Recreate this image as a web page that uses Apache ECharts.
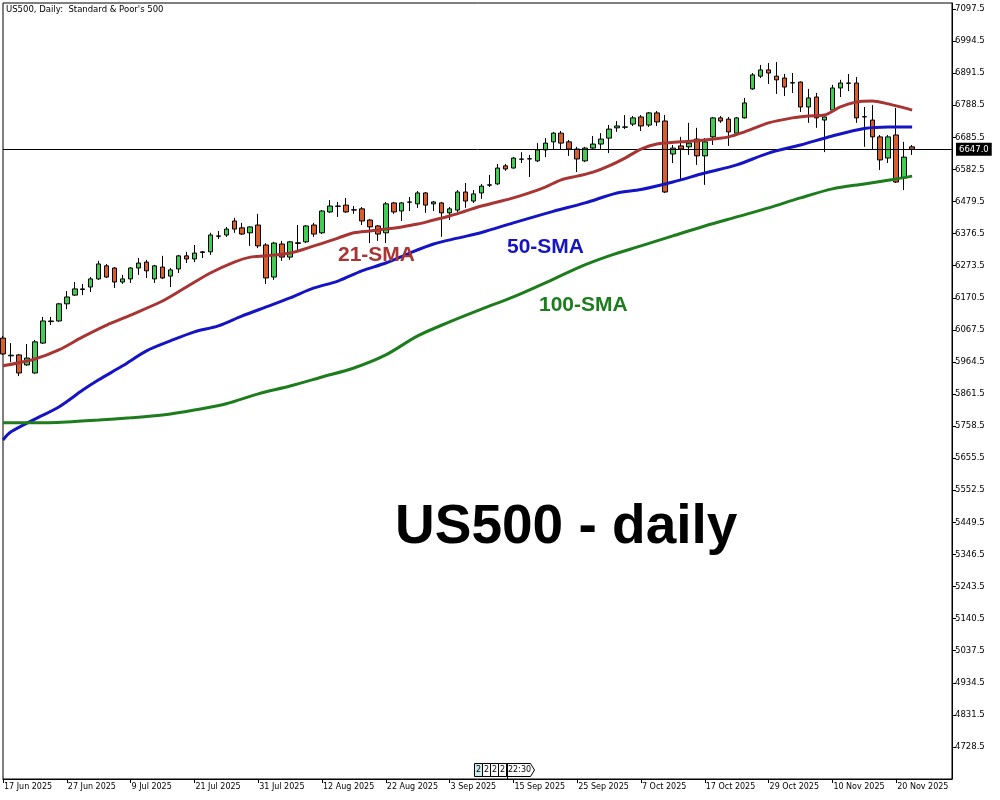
<!DOCTYPE html>
<html>
<head>
<meta charset="utf-8">
<title>US500 daily</title>
<script src="https://cdn.jsdelivr.net/npm/echarts@6/dist/echarts.min.js"></script>
<style>
  html, body { margin: 0; padding: 0; background: #fff; }
  #chart { width: 1000px; height: 800px; }
</style>
</head>
<body>
<div id="chart"></div>
<script>
  // date labels shown under the x axis, one every 8 trading days
  const tickLabels = ['17 Jun 2025', '27 Jun 2025', '9 Jul 2025', '21 Jul 2025', '31 Jul 2025',
    '12 Aug 2025', '22 Aug 2025', '3 Sep 2025', '15 Sep 2025', '25 Sep 2025', '7 Oct 2025',
    '17 Oct 2025', '29 Oct 2025', '10 Nov 2025', '20 Nov 2025'];

  // price scale labels on the right
  const priceTicks = [4728.5, 4831.5, 4934.5, 5037.5, 5140.5, 5243.5, 5346.5, 5449.5, 5552.5,
    5655.5, 5758.5, 5861.5, 5964.5, 6067.5, 6170.5, 6273.5, 6376.5, 6479.5, 6582.5, 6685.5,
    6788.5, 6891.5, 6994.5, 7097.5];

  // daily bars, [open, close, low, high], from 17 Jun 2025
  const ohlc = [
    [6041, 5990, 5987, 6048], [5986, 5984, 5964, 6025], [5987, 5929, 5919, 5990], [5955, 5977, 5952, 6022],
    [5929, 6029, 5927, 6035], [6025, 6096, 6022, 6109], [6094, 6096, 6083, 6109], [6096, 6151, 6093, 6154],
    [6151, 6173, 6134, 6192], [6179, 6199, 6176, 6221], [6197, 6199, 6179, 6215], [6205, 6231, 6189, 6237],
    [6231, 6279, 6228, 6289], [6273, 6237, 6234, 6279], [6266, 6221, 6202, 6269], [6221, 6231, 6215, 6244],
    [6231, 6266, 6218, 6269], [6266, 6282, 6244, 6298], [6285, 6257, 6234, 6292], [6231, 6273, 6218, 6276],
    [6269, 6234, 6231, 6305], [6240, 6260, 6205, 6266], [6263, 6305, 6250, 6308], [6305, 6295, 6282, 6318],
    [6295, 6314, 6285, 6340], [6318, 6316, 6298, 6320], [6318, 6372, 6308, 6379], [6368, 6369, 6359, 6385],
    [6372, 6391, 6366, 6398], [6417, 6391, 6379, 6427], [6395, 6375, 6372, 6411], [6379, 6398, 6337, 6400],
    [6404, 6337, 6330, 6440], [6340, 6234, 6215, 6346], [6237, 6346, 6228, 6350], [6343, 6301, 6289, 6353],
    [6301, 6350, 6292, 6353], [6345, 6347, 6318, 6404], [6350, 6401, 6346, 6404], [6404, 6375, 6366, 6411],
    [6379, 6449, 6375, 6452], [6446, 6465, 6443, 6484], [6464, 6465, 6430, 6478], [6468, 6446, 6443, 6491],
    [6453, 6452, 6440, 6465], [6456, 6417, 6404, 6462], [6420, 6398, 6346, 6423], [6401, 6375, 6353, 6404],
    [6379, 6472, 6346, 6478], [6475, 6446, 6440, 6478], [6449, 6475, 6417, 6478], [6477, 6478, 6449, 6494],
    [6472, 6507, 6459, 6513], [6507, 6468, 6443, 6510], [6472, 6478, 6449, 6481], [6475, 6443, 6366, 6478],
    [6443, 6456, 6420, 6462], [6452, 6510, 6446, 6516], [6510, 6481, 6459, 6539], [6481, 6504, 6475, 6516],
    [6507, 6529, 6488, 6536], [6532, 6533, 6526, 6565], [6536, 6587, 6533, 6600], [6594, 6584, 6578, 6600],
    [6587, 6619, 6585, 6622], [6615, 6616, 6603, 6638], [6617, 6616, 6558, 6629], [6610, 6645, 6606, 6667],
    [6645, 6667, 6622, 6683], [6671, 6699, 6645, 6703], [6699, 6667, 6645, 6706], [6671, 6648, 6626, 6677],
    [6648, 6616, 6574, 6655], [6610, 6651, 6606, 6655], [6651, 6664, 6648, 6690], [6664, 6680, 6648, 6699],
    [6683, 6712, 6635, 6725], [6716, 6722, 6703, 6738], [6718, 6719, 6712, 6757], [6728, 6748, 6722, 6754],
    [6751, 6722, 6706, 6757], [6725, 6764, 6719, 6767], [6764, 6735, 6722, 6770], [6738, 6510, 6507, 6757],
    [6632, 6651, 6603, 6661], [6658, 6648, 6549, 6687], [6655, 6667, 6629, 6732], [6680, 6626, 6597, 6716],
    [6626, 6671, 6533, 6683], [6687, 6748, 6661, 6751], [6748, 6738, 6732, 6754], [6744, 6703, 6658, 6751],
    [6699, 6748, 6693, 6751], [6748, 6796, 6746, 6812], [6841, 6886, 6838, 6892], [6882, 6902, 6876, 6918],
    [6902, 6892, 6857, 6924], [6882, 6870, 6825, 6927], [6876, 6847, 6818, 6889], [6861, 6860, 6828, 6892],
    [6863, 6783, 6767, 6865], [6783, 6812, 6732, 6841], [6815, 6748, 6716, 6828], [6741, 6751, 6638, 6752],
    [6773, 6844, 6767, 6854], [6844, 6860, 6815, 6870], [6859, 6860, 6834, 6889], [6860, 6748, 6732, 6879],
    [6752, 6751, 6655, 6783], [6741, 6687, 6645, 6789], [6687, 6613, 6581, 6693], [6619, 6687, 6603, 6693],
    [6693, 6542, 6539, 6780], [6555, 6622, 6516, 6671], [6655, 6647, 6629, 6661]
  ];

  // moving averages, [bar index, value]
  const sma21 = [[0, 5952], [4, 5974], [7, 6003], [10, 6045], [13, 6083], [16, 6115], [20, 6160],
    [23, 6205], [26, 6250], [29, 6285], [31, 6301], [33, 6305], [36, 6314], [39, 6337], [42, 6362],
    [44, 6379], [46, 6385], [48, 6391], [50, 6398], [52, 6407], [54, 6420], [56, 6433], [58, 6449],
    [60, 6465], [62, 6478], [64, 6491], [66, 6507], [68, 6526], [70, 6549], [72, 6561], [74, 6574],
    [76, 6594], [78, 6619], [80, 6648], [82, 6664], [85, 6671], [88, 6677], [91, 6687], [93, 6703],
    [96, 6732], [99, 6748], [101, 6754], [103, 6757], [105, 6783], [107, 6799], [109, 6802],
    [111, 6793], [113, 6780], [114, 6773]];
  const sma50 = [[0, 5714], [1, 5740], [4, 5781], [7, 5820], [10, 5874], [12, 5907], [15, 5952],
    [18, 6000], [21, 6032], [24, 6061], [27, 6080], [30, 6112], [33, 6141], [36, 6170], [39, 6202],
    [42, 6224], [45, 6257], [48, 6282], [51, 6314], [54, 6343], [57, 6362], [60, 6380], [64, 6411],
    [69, 6448], [73, 6475], [77, 6507], [80, 6518], [84, 6542], [88, 6571], [92, 6597], [96, 6635],
    [100, 6661], [104, 6690], [108, 6714], [111, 6719], [114, 6719]];
  const sma100 = [[0, 5769], [4, 5769], [8, 5772], [12, 5778], [16, 5785], [20, 5794], [24, 5810],
    [28, 5830], [32, 5862], [36, 5887], [40, 5916], [44, 5945], [48, 5987], [52, 6048], [56, 6093],
    [60, 6134], [64, 6173], [68, 6218], [72, 6266], [76, 6305], [80, 6337], [84, 6369], [88, 6401],
    [92, 6430], [96, 6459], [100, 6491], [104, 6520], [108, 6536], [112, 6552], [114, 6561]];

  const lastPrice = 6647.0;

  // weekday slots, a few left empty on the right like the terminal's chart shift
  const slotCount = 120;
  const monthNames = ['Jan', 'Feb', 'Mar', 'Apr', 'May', 'Jun', 'Jul', 'Aug', 'Sep', 'Oct', 'Nov', 'Dec'];
  const categories = [];
  for (let d = new Date(Date.UTC(2025, 5, 17)); categories.length < slotCount; d.setUTCDate(d.getUTCDate() + 1)) {
    const wd = d.getUTCDay();
    if (wd === 0 || wd === 6) continue;
    categories.push(d.getUTCDate() + ' ' + monthNames[d.getUTCMonth()] + ' ' + d.getUTCFullYear());
  }

  const smallFont = '"DejaVu Sans", sans-serif';
  const chart = echarts.init(document.getElementById('chart'));

  function smaSeries(name, data, color) {
    return {
      name: name,
      type: 'line',
      data: data,
      symbol: 'none',
      smooth: 0.3,
      z: 5,
      lineStyle: { color: color, width: 3 },
      silent: true
    };
  }

  // little scroll marker at the bottom of the plot
  const markerBoxes = [474, 482, 490, 498].map(function (x, i) {
    return {
      type: 'rect',
      shape: { x: x + 0.5, y: 763.5, width: 8, height: 13 },
      style: { fill: i === 0 ? '#cdeeee' : '#fff', stroke: '#000', lineWidth: 1 },
      textContent: { style: { text: '2', font: '8px ' + smallFont, fill: '#000' } },
      textConfig: { position: 'inside' }
    };
  });

  const option = {
    animation: false,
    backgroundColor: '#fff',
    grid: {
      left: 3, right: 48, top: 3, bottom: 21,
      show: true, borderColor: '#000', borderWidth: 1, backgroundColor: 'transparent'
    },
    xAxis: {
      type: 'category',
      data: categories,
      boundaryGap: false,
      axisLine: { show: true, lineStyle: { color: '#000', width: 1 } },
      axisTick: { show: true, interval: 7, length: 4, inside: false, lineStyle: { color: '#000' } },
      axisLabel: {
        interval: 7,
        align: 'left',
        margin: 4,
        padding: [0, 0, 0, 1],
        color: '#000',
        fontFamily: smallFont,
        fontSize: 8,
        formatter: function (value, idx) {
          return tickLabels[idx / 8] || '';
        }
      },
      splitLine: { show: false }
    },
    yAxis: {
      type: 'value',
      position: 'right',
      min: 4625.5,
      max: 7116.8,
      scale: true,
      axisLine: { show: true, lineStyle: { color: '#000', width: 1 } },
      axisTick: { show: true, length: 4, customValues: priceTicks, lineStyle: { color: '#000' } },
      axisLabel: {
        customValues: priceTicks,
        margin: 3,
        color: '#000',
        fontFamily: smallFont,
        fontSize: 8.5,
        formatter: function (v) { return v.toFixed(1); }
      },
      splitLine: { show: false }
    },
    series: [
      {
        name: 'US500',
        type: 'candlestick',
        data: ohlc,
        barWidth: 5,
        z: 3,
        itemStyle: {
          color: '#42cc55',
          color0: '#d65f2d',
          borderColor: '#000',
          borderColor0: '#000',
          borderColorDoji: '#000',
          borderWidth: 1
        },
        markLine: {
          silent: true,
          symbol: 'none',
          animation: false,
          lineStyle: { color: '#000', width: 1, type: 'solid' },
          label: {
            show: true,
            position: 'end',
            distance: 4,
            formatter: lastPrice.toFixed(1),
            color: '#fff',
            backgroundColor: '#000',
            padding: [2, 3, 2, 3],
            fontFamily: smallFont,
            fontSize: 8.5
          },
          data: [{ yAxis: lastPrice }]
        }
      },
      smaSeries('21-SMA', sma21, '#a83434'),
      smaSeries('50-SMA', sma50, '#1414c4'),
      smaSeries('100-SMA', sma100, '#1d7d1d')
    ],
    graphic: [
      {
        type: 'text', x: 6, y: 9.5, z: 20,
        style: { text: "US500, Daily:  Standard & Poor's 500", font: '8.5px ' + smallFont, fill: '#000', verticalAlign: 'middle' }
      },
      {
        type: 'text', x: 338, y: 255, z: 20,
        style: { text: '21-SMA', font: 'bold 21px "Liberation Sans", Arial, sans-serif', fill: '#a83434', verticalAlign: 'middle' }
      },
      {
        type: 'text', x: 507, y: 247, z: 20,
        style: { text: '50-SMA', font: 'bold 21px "Liberation Sans", Arial, sans-serif', fill: '#1414c4', verticalAlign: 'middle' }
      },
      {
        type: 'text', x: 539, y: 305.5, z: 20,
        style: { text: '100-SMA', font: 'bold 21px "Liberation Sans", Arial, sans-serif', fill: '#1d7d1d', verticalAlign: 'middle' }
      },
      {
        type: 'text', x: 395, y: 528, z: 20,
        style: { text: 'US500 - daily', font: 'bold 55px "Liberation Sans", Arial, sans-serif', fill: '#000', verticalAlign: 'middle' }
      },
      {
        type: 'group', z: 20,
        children: markerBoxes.concat([
          {
            type: 'polygon',
            shape: { points: [[506.5, 763.5], [530.5, 763.5], [534.5, 770], [530.5, 776.5], [506.5, 776.5]] },
            style: { fill: '#fff', stroke: '#000', lineWidth: 1 }
          },
          {
            type: 'text', x: 508, y: 770,
            style: { text: '22:30', font: '8px ' + smallFont, fill: '#000', verticalAlign: 'middle' }
          },
          {
            type: 'line',
            shape: { x1: 507.5, y1: 763, x2: 507.5, y2: 779 },
            style: { stroke: '#000', lineWidth: 1 }
          }
        ])
      }
    ]
  };

  chart.setOption(option);
</script>
</body>
</html>
